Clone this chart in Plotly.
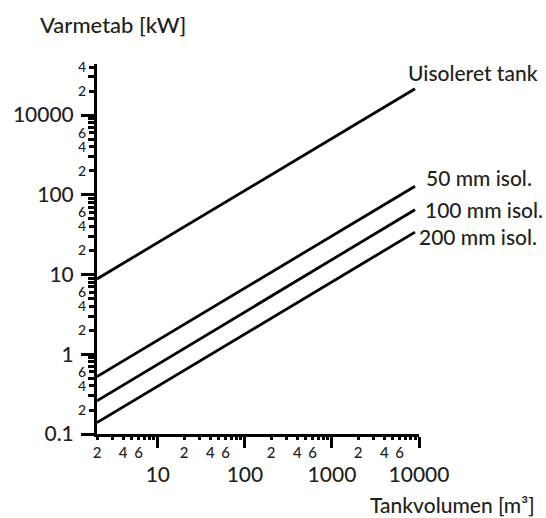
import plotly.graph_objects as go

# ---- data ----
volume = [2, 9000]                 # Tankvolumen [m3]
uisoleret = [8.8, 2140]            # Varmetab [kW]
mm50 = [0.525, 128]
mm100 = [0.26, 65]
mm200 = [0.139, 34]

series_names = ["Uisoleret tank", "50 mm isol.", "100 mm isol.", "200 mm isol."]

y_major_vals = [0.1, 1, 10, 100, 1000]
y_major_text = ["0.1", "1", "10", "100", "10000"]
x_major_vals = [10, 100, 1000, 10000]
x_major_text = ["10", "100", "1000", "10000"]
labelled_mults = [2, 4, 6]
unlabelled_mults = [3, 5, 7, 8, 9]

y_decades = [0.1, 1, 10, 100]
y_lab_vals = [m * d for d in y_decades for m in labelled_mults] + [2000, 4000]
y_lab_text = [str(m) for d in y_decades for m in labelled_mults] + ["2", "4"]
y_unl_vals = [m * d for d in y_decades for m in unlabelled_mults] + [3000]

x_decades = [1, 10, 100, 1000]
x_lab_vals = [m * d for d in x_decades for m in labelled_mults]
x_lab_text = [str(m) for d in x_decades for m in labelled_mults]
x_unl_vals = [m * d for d in x_decades for m in unlabelled_mults]

TXT = "#231f20"
FONT = "Lato"
W = 500
xr = [0.30103, 4.0]
yr = [-1.0, 3.64]

fig = go.Figure()
for name, vals in zip(series_names, [uisoleret, mm50, mm100, mm200]):
    fig.add_trace(go.Scatter(x=volume, y=vals, mode="lines", name=name,
                             line=dict(color="black", width=2.8),
                             showlegend=False, hoverinfo="skip"))
# invisible trace so the overlaid minor-tick axes are drawn
fig.add_trace(go.Scatter(x=[volume[0]], y=[uisoleret[0]], xaxis="x2", yaxis="y2",
                         mode="markers", marker=dict(opacity=0),
                         showlegend=False, hoverinfo="skip"))

fig.update_layout(
    width=546, height=518,
    margin=dict(l=97, r=127, t=64, b=84),
    paper_bgcolor="white", plot_bgcolor="white",
    font=dict(family=FONT, color=TXT, weight=W),
    xaxis=dict(type="log", range=xr, showgrid=False, zeroline=False,
               showline=True, linecolor="black", linewidth=3,
               ticks="outside", tickvals=x_major_vals, ticktext=x_major_text,
               ticklen=11, tickwidth=2.5, tickcolor="black",
               tickfont=dict(size=21, color=TXT, weight=W), ticklabelstandoff=9),
    xaxis2=dict(type="log", range=xr, overlaying="x", side="bottom", anchor="y",
                showgrid=False, zeroline=False, showline=False,
                ticks="outside", tickvals=x_lab_vals, ticktext=x_lab_text,
                ticklen=5, tickwidth=2.5, tickcolor="black",
                tickfont=dict(size=15, color=TXT, weight=W),
                minor=dict(tickvals=x_unl_vals, ticks="outside", ticklen=5,
                           tickwidth=2.5, tickcolor="black", showgrid=False)),
    yaxis=dict(type="log", range=yr, showgrid=False, zeroline=False,
               showline=True, linecolor="black", linewidth=3,
               ticks="outside", tickvals=y_major_vals, ticktext=y_major_text,
               ticklen=13, tickwidth=2.5, tickcolor="black",
               tickfont=dict(size=21, color=TXT, weight=W), ticklabelstandoff=3),
    yaxis2=dict(type="log", range=yr, overlaying="y", side="left", anchor="x",
                showgrid=False, zeroline=False, showline=False,
                ticks="outside", tickvals=y_lab_vals, ticktext=y_lab_text,
                ticklen=7, tickwidth=2.5, tickcolor="black",
                tickfont=dict(size=14, color=TXT, weight=W),
                minor=dict(tickvals=y_unl_vals, ticks="outside", ticklen=8,
                           tickwidth=2.5, tickcolor="black", showgrid=False)),
)

def px_x(p):
    return (p - 97) / 322.0

def px_y(p):
    return (434 - p) / 370.0

labels = [
    ("Uisoleret tank", 406, 73),
    ("50 mm isol.", 424, 177),
    ("100 mm isol.", 423, 209),
    ("200 mm isol.", 417, 236),
]
for text, lx, ly in labels:
    fig.add_annotation(text=text, xref="paper", yref="paper", x=px_x(lx), y=px_y(ly),
                       xanchor="left", yanchor="middle", showarrow=False,
                       font=dict(size=21, color=TXT, family=FONT, weight=W))

fig.add_annotation(text="Varmetab [kW]", xref="paper", yref="paper",
                   x=px_x(38), y=px_y(25), xanchor="left", yanchor="middle",
                   showarrow=False, font=dict(size=22, color=TXT, family=FONT, weight=W))
fig.add_annotation(text="Tankvolumen [m³]", xref="paper", yref="paper",
                   x=px_x(368), y=px_y(504), xanchor="left", yanchor="middle",
                   showarrow=False, font=dict(size=21, color=TXT, family=FONT, weight=W))
fig.add_annotation(text="Figur 22", xref="paper", yref="paper",
                   x=px_x(209), y=px_y(510), xanchor="left", yanchor="top",
                   showarrow=False, font=dict(size=20, color="#555555", family=FONT, weight=W))

fig.write_html("out.html")
